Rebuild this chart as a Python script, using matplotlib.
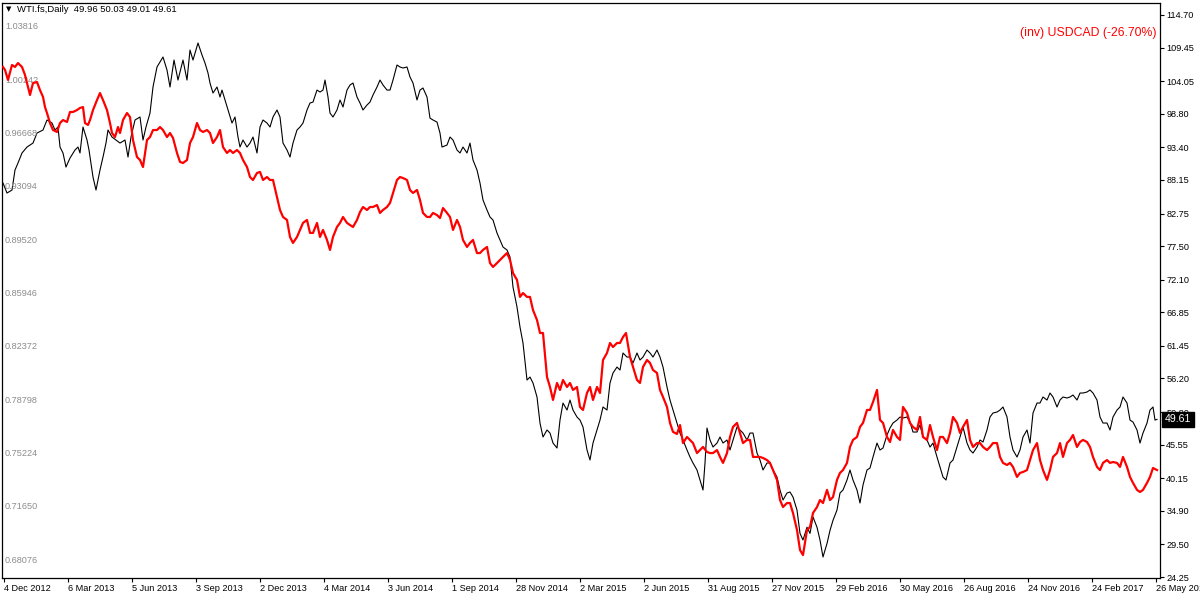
import numpy as np
import matplotlib
matplotlib.use("Agg")
import matplotlib.pyplot as plt
import matplotlib.transforms as mtransforms

plt.rcParams["font.family"] = ["Liberation Sans", "DejaVu Sans"]

# WTI daily closes (bar number, price)
wti_bar = [
    3, 7, 12, 15, 18, 22, 27, 33, 37, 43,
    47, 52, 55, 58, 60, 63, 66, 70, 75, 78,
    80, 83, 87, 89, 93, 96, 100, 103, 106, 108,
    112, 116, 120, 125, 128, 131, 135, 140, 143, 146,
    150, 153, 157, 163, 167, 170, 174, 178, 183, 187,
    190, 193, 198, 202, 205, 208, 210, 213, 217, 220,
    222, 225, 229, 232, 235, 238, 240, 243, 247, 250,
    253, 257, 260, 263, 267, 270, 273, 277, 280, 283,
    287, 290, 293, 297, 300, 303, 307, 310, 313, 317,
    320, 323, 325, 328, 330, 333, 337, 340, 343, 347,
    350, 353, 357, 360, 363, 367, 370, 373, 377, 380,
    383, 387, 390, 393, 397, 400, 403, 407, 410, 413,
    417, 420, 423, 427, 430, 433, 437, 440, 442, 447,
    450, 453, 457, 460, 463, 467, 470, 473, 477, 480,
    483, 487, 490, 493, 497, 500, 503, 507, 510, 513,
    517, 520, 523, 527, 530, 533, 537, 540, 543, 547,
    550, 553, 557, 560, 563, 567, 570, 573, 577, 580,
    583, 587, 590, 593, 597, 600, 603, 607, 610, 613,
    617, 620, 623, 627, 630, 633, 637, 640, 643, 647,
    650, 653, 657, 660, 663, 667, 670, 673, 677, 680,
    683, 687, 690, 693, 697, 700, 703, 705, 707, 710,
    713, 717, 720, 723, 727, 730, 733, 737, 740, 743,
    747, 750, 753, 757, 760, 763, 767, 770, 773, 777,
    780, 783, 787, 790, 793, 797, 800, 803, 807, 810,
    813, 817, 820, 823, 827, 830, 833, 837, 840, 843,
    847, 850, 853, 857, 860, 863, 867, 870, 873, 877,
    880, 883, 887, 890, 893, 897, 900, 903, 907, 910,
    913, 917, 920, 923, 927, 930, 933, 937, 940, 943,
    946, 950, 953, 957, 960, 963, 967, 970, 973, 977,
    980, 983, 987, 990, 993, 997, 1000, 1003, 1007, 1010,
    1013, 1017, 1020, 1023, 1027, 1030, 1033, 1037, 1040, 1043,
    1047, 1050, 1053, 1057, 1060, 1063, 1067, 1070, 1073, 1077,
    1080, 1083, 1087, 1090, 1093, 1097, 1100, 1103, 1107, 1110,
    1113, 1117, 1120, 1123, 1127, 1130, 1133, 1137, 1140, 1143,
    1147, 1150, 1153, 1155, 1157,
]
wti_close = [
    87.66, 86.05, 86.53, 89.75, 90.88, 92.49, 93.45, 94.09, 95.70, 96.19,
    97.80, 97.31, 96.19, 96.67, 93.45, 92.49, 90.23, 91.68, 92.97, 93.45,
    92.49, 96.67, 94.58, 92.97, 88.62, 86.53, 89.75, 91.84, 94.09, 96.19,
    95.06, 94.58, 94.09, 94.58, 91.84, 95.06, 97.80, 98.28, 94.58, 96.67,
    98.92, 103.11, 106.33, 107.94, 105.84, 103.11, 107.45, 104.23, 107.45, 104.23,
    109.06, 107.45, 110.19, 108.26, 106.97, 105.36, 103.75, 102.14, 103.11, 101.50,
    102.62, 101.02, 98.92, 97.31, 98.28, 95.06, 93.45, 94.58, 93.45, 94.09,
    95.06, 92.49, 96.67, 97.80, 97.31, 96.67, 98.28, 99.41, 98.28, 94.09,
    92.97, 91.84, 94.09, 96.19, 96.67, 97.31, 99.41, 100.53, 100.69, 102.62,
    102.30, 102.62, 104.23, 101.50, 98.92, 98.28, 99.41, 101.02, 99.89, 102.62,
    103.43, 103.75, 101.50, 100.53, 99.41, 100.21, 100.69, 101.82, 103.11, 104.23,
    103.43, 102.62, 102.62, 104.23, 106.65, 106.33, 106.17, 106.33, 104.72, 103.75,
    101.02, 102.62, 102.95, 101.50, 98.10, 97.80, 97.47, 95.70, 93.45, 93.77,
    95.06, 94.58, 92.97, 92.49, 93.45, 92.49, 94.09, 91.36, 89.75, 87.66,
    84.92, 83.31, 82.19, 81.70, 79.61, 78.48, 77.36, 76.87, 75.75, 70.92,
    67.70, 64.48, 61.91, 55.95, 56.43, 55.47, 53.22, 49.03, 46.78, 47.91,
    47.42, 45.81, 45.01, 49.51, 52.25, 51.12, 52.73, 51.12, 50.00, 49.51,
    48.39, 44.69, 43.08, 45.81, 47.91, 49.51, 51.61, 51.12, 55.47, 57.08,
    58.04, 57.56, 60.30, 59.65, 59.65, 58.69, 60.30, 59.17, 59.65, 60.78,
    60.30, 59.65, 60.78, 59.65, 58.04, 54.83, 52.73, 51.12, 49.03, 47.42,
    46.30, 44.69, 43.56, 42.60, 41.47, 39.86, 38.25, 42.60, 48.23, 46.30,
    45.17, 45.81, 46.78, 45.81, 46.30, 44.69, 46.30, 48.39, 47.91, 47.42,
    46.30, 47.42, 47.42, 44.20, 43.08, 41.47, 42.60, 42.60, 41.47, 40.34,
    38.25, 36.64, 37.77, 37.93, 37.12, 35.03, 31.27, 30.20, 32.26, 31.27,
    33.91, 32.26, 30.20, 27.47, 29.64, 31.75, 33.37, 35.03, 37.77, 38.25,
    39.86, 41.47, 39.86, 38.25, 36.16, 39.05, 41.47, 41.79, 43.56, 45.81,
    44.69, 45.01, 47.10, 48.23, 49.03, 49.51, 50.00, 49.84, 50.00, 49.19,
    47.58, 47.58, 48.71, 46.78, 46.30, 45.17, 45.81, 43.56, 41.95, 40.34,
    39.86, 42.60, 43.08, 45.17, 46.78, 48.39, 45.81, 44.69, 44.20, 45.17,
    46.30, 45.97, 47.91, 50.00, 50.64, 50.80, 51.12, 51.61, 50.00, 46.78,
    44.69, 43.56, 44.69, 46.78, 47.91, 45.81, 50.64, 52.25, 52.25, 53.22,
    52.73, 53.86, 53.22, 51.61, 52.73, 53.22, 53.06, 53.22, 53.54, 52.73,
    53.86, 53.86, 54.02, 54.35, 53.86, 52.73, 50.00, 49.03, 49.03, 47.91,
    50.00, 51.12, 51.61, 53.22, 52.25, 49.51, 49.19, 47.91, 45.81, 47.42,
    49.03, 51.12, 51.61, 49.51, 49.61,
]

# inverted USDCAD (1 / USDCAD) (bar number, value)
cad_bar = [
    3, 5, 8, 12, 15, 18, 22, 25, 28, 30,
    33, 37, 40, 43, 45, 47, 50, 53, 57, 60,
    63, 67, 70, 73, 77, 80, 83, 85, 88, 90,
    93, 97, 100, 103, 107, 110, 112, 115, 118, 120,
    123, 127, 130, 133, 137, 140, 143, 147, 150, 153,
    157, 160, 163, 167, 170, 173, 177, 180, 183, 187,
    190, 193, 197, 200, 203, 207, 210, 213, 217, 220,
    223, 227, 230, 233, 237, 240, 243, 247, 250, 253,
    257, 260, 263, 267, 270, 273, 277, 280, 283, 287,
    290, 293, 297, 300, 303, 307, 310, 313, 317, 320,
    323, 327, 330, 333, 337, 340, 343, 347, 350, 353,
    357, 360, 363, 367, 370, 373, 377, 380, 383, 387,
    390, 393, 397, 400, 403, 407, 410, 413, 417, 420,
    423, 427, 430, 433, 437, 440, 443, 447, 450, 453,
    457, 460, 463, 467, 470, 473, 477, 480, 483, 487,
    490, 493, 497, 500, 503, 507, 510, 513, 517, 520,
    523, 527, 530, 533, 537, 540, 543, 547, 550, 553,
    557, 560, 563, 567, 570, 573, 577, 580, 583, 587,
    590, 593, 597, 600, 603, 607, 610, 613, 617, 620,
    623, 626, 630, 633, 637, 640, 643, 647, 650, 653,
    657, 660, 663, 667, 670, 673, 677, 680, 683, 687,
    690, 693, 697, 700, 703, 707, 710, 713, 717, 720,
    723, 727, 730, 733, 737, 740, 743, 747, 750, 753,
    757, 760, 763, 767, 770, 773, 777, 780, 783, 787,
    790, 793, 797, 800, 803, 807, 810, 813, 817, 820,
    823, 827, 830, 833, 837, 840, 843, 847, 850, 853,
    857, 860, 863, 867, 870, 873, 877, 880, 883, 887,
    890, 893, 897, 900, 903, 907, 910, 913, 917, 920,
    923, 927, 930, 933, 937, 940, 943, 947, 950, 953,
    957, 960, 963, 967, 970, 973, 977, 980, 983, 987,
    990, 993, 997, 1000, 1003, 1007, 1010, 1013, 1017, 1020,
    1023, 1027, 1030, 1033, 1037, 1040, 1043, 1047, 1050, 1053,
    1057, 1060, 1063, 1067, 1070, 1073, 1077, 1080, 1083, 1087,
    1090, 1093, 1097, 1100, 1103, 1107, 1110, 1113, 1117, 1120,
    1123, 1127, 1130, 1133, 1137, 1140, 1143, 1147, 1150, 1153,
    1157,
]
cad_inv = [
    1.0107, 1.0087, 1.0020, 1.0120, 1.0107, 1.0133, 1.0107, 1.0053, 0.9973, 0.9919,
    0.9999, 1.0006, 0.9952, 0.9906, 0.9838, 0.9798, 0.9731, 0.9684, 0.9671, 0.9731,
    0.9751, 0.9738, 0.9805, 0.9805, 0.9818, 0.9832, 0.9838, 0.9731, 0.9718, 0.9751,
    0.9818, 0.9885, 0.9932, 0.9885, 0.9818, 0.9731, 0.9664, 0.9637, 0.9704, 0.9664,
    0.9751, 0.9798, 0.9771, 0.9617, 0.9503, 0.9483, 0.9436, 0.9617, 0.9637, 0.9684,
    0.9684, 0.9704, 0.9684, 0.9637, 0.9664, 0.9631, 0.9530, 0.9470, 0.9463, 0.9483,
    0.9597, 0.9637, 0.9731, 0.9684, 0.9671, 0.9684, 0.9664, 0.9597, 0.9637, 0.9684,
    0.9570, 0.9530, 0.9550, 0.9530, 0.9550, 0.9530, 0.9483, 0.9436, 0.9369, 0.9349,
    0.9396, 0.9403, 0.9349, 0.9369, 0.9349, 0.9349, 0.9235, 0.9148, 0.9101, 0.9081,
    0.8967, 0.8927, 0.8967, 0.9014, 0.9061, 0.9081, 0.8994, 0.8994, 0.9061, 0.8967,
    0.9014, 0.8947, 0.8880, 0.8967, 0.9034, 0.9061, 0.9101, 0.9061, 0.9047, 0.9034,
    0.9081, 0.9134, 0.9168, 0.9148, 0.9168, 0.9168, 0.9181, 0.9128, 0.9148, 0.9168,
    0.9195, 0.9262, 0.9349, 0.9369, 0.9362, 0.9349, 0.9282, 0.9262, 0.9282, 0.9215,
    0.9128, 0.9101, 0.9101, 0.9128, 0.9114, 0.9094, 0.9161, 0.9128, 0.9101, 0.9014,
    0.9081, 0.9034, 0.8947, 0.8900, 0.8927, 0.8947, 0.8859, 0.8859, 0.8880, 0.8900,
    0.8792, 0.8766, 0.8792, 0.8813, 0.8833, 0.8859, 0.8813, 0.8725, 0.8679, 0.8565,
    0.8591, 0.8565, 0.8565, 0.8477, 0.8410, 0.8323, 0.8323, 0.8028, 0.7961, 0.7874,
    0.7988, 0.7941, 0.8008, 0.7961, 0.7988, 0.7941, 0.7961, 0.7827, 0.7807, 0.7921,
    0.7961, 0.7874, 0.7961, 0.7921, 0.8142, 0.8189, 0.8256, 0.8229, 0.8256, 0.8256,
    0.8296, 0.8323, 0.8162, 0.8095, 0.8008, 0.7988, 0.8095, 0.8142, 0.8122, 0.8075,
    0.8055, 0.7941, 0.7894, 0.7827, 0.7720, 0.7660, 0.7646, 0.7706, 0.7585, 0.7626,
    0.7606, 0.7585, 0.7518, 0.7538, 0.7559, 0.7525, 0.7518, 0.7518, 0.7538, 0.7492,
    0.7452, 0.7518, 0.7626, 0.7693, 0.7720, 0.7653, 0.7585, 0.7606, 0.7606, 0.7492,
    0.7492, 0.7492, 0.7485, 0.7471, 0.7452, 0.7404, 0.7338, 0.7203, 0.7156, 0.7183,
    0.7183, 0.7116, 0.7002, 0.6868, 0.6834, 0.7002, 0.7022, 0.7116, 0.7156, 0.7203,
    0.7183, 0.7271, 0.7203, 0.7223, 0.7338, 0.7385, 0.7404, 0.7452, 0.7559, 0.7606,
    0.7626, 0.7693, 0.7720, 0.7807, 0.7807, 0.7860, 0.7941, 0.7740, 0.7720, 0.7626,
    0.7592, 0.7673, 0.7626, 0.7606, 0.7827, 0.7787, 0.7720, 0.7693, 0.7673, 0.7760,
    0.7626, 0.7606, 0.7706, 0.7626, 0.7538, 0.7626, 0.7626, 0.7585, 0.7653, 0.7760,
    0.7720, 0.7653, 0.7693, 0.7740, 0.7606, 0.7559, 0.7585, 0.7585, 0.7559, 0.7538,
    0.7559, 0.7585, 0.7585, 0.7492, 0.7452, 0.7438, 0.7452, 0.7425, 0.7358, 0.7385,
    0.7391, 0.7404, 0.7471, 0.7538, 0.7585, 0.7471, 0.7404, 0.7338, 0.7404, 0.7492,
    0.7518, 0.7585, 0.7492, 0.7585, 0.7606, 0.7639, 0.7559, 0.7592, 0.7606, 0.7592,
    0.7559, 0.7492, 0.7425, 0.7404, 0.7452, 0.7471, 0.7452, 0.7458, 0.7452, 0.7425,
    0.7492, 0.7425, 0.7358, 0.7318, 0.7271, 0.7257, 0.7271, 0.7318, 0.7358, 0.7418,
    0.7404,
]

date_labels = [
    "4 Dec 2012", "6 Mar 2013", "5 Jun 2013", "3 Sep 2013", "2 Dec 2013",
    "4 Mar 2014", "3 Jun 2014", "1 Sep 2014", "28 Nov 2014", "2 Mar 2015",
    "2 Jun 2015", "31 Aug 2015", "27 Nov 2015", "29 Feb 2016", "30 May 2016",
    "26 Aug 2016", "24 Nov 2016", "24 Feb 2017", "26 May 2017",
]
wti_ticks = [114.70, 109.45, 104.05, 98.80, 93.40, 88.15, 82.75, 77.50, 72.10,
             66.85, 61.45, 56.20, 50.80, 45.55, 40.15, 34.90, 29.50, 24.25]
cad_ticks = [1.03816, 1.00242, 0.96668, 0.93094, 0.89520, 0.85946,
             0.82372, 0.78798, 0.75224, 0.71650, 0.68076]
last_ohlc = [49.96, 50.03, 49.01, 49.61]
cad_change = -26.70


def main():
    W, H = 1200, 600
    fig = plt.figure(figsize=(W / 100, H / 100), dpi=100)
    fig.patch.set_facecolor("white")

    ax = fig.add_axes([2 / W, 22 / H, 1158 / W, 575 / H])
    ax.plot(wti_bar, wti_close, color="black", lw=0.8, zorder=2)
    ax.set_xlim(2, 1160)
    ax.set_ylim(24.09, 116.63)

    # inverted USDCAD overlay, its scale written inside on the left
    ax2 = ax.twinx()
    ax2.plot(cad_bar, cad_inv, color="#ff0000", lw=1.6, zorder=3)
    ax2.set_ylim(0.66802, 1.05358)
    ax2.yaxis.tick_left()
    ax2.set_yticks(cad_ticks)
    ax2.set_yticklabels(["%.5f" % t for t in cad_ticks])
    ax2.tick_params(axis="y", left=True, right=False, length=0, pad=-2.2,
                    labelsize=6.6, labelcolor="#8c8c8c",
                    labelleft=True, labelright=False)
    for lab in ax2.get_yticklabels():
        lab.set_horizontalalignment("left")
    for s in ax2.spines.values():
        s.set_visible(False)

    # WTI scale on the right (after twinx, which moves it left)
    ax.yaxis.tick_right()
    ax.set_yticks(wti_ticks)
    ax.set_yticklabels(["%.2f" % t for t in wti_ticks])
    ax.tick_params(axis="y", left=False, right=True, labelleft=False,
                   labelright=True, direction="out", length=3, width=0.8,
                   pad=1.5, labelsize=6.6, colors="black")

    # one date every 64 bars
    ax.set_xticks(4 + 64 * np.arange(len(date_labels)))
    ax.set_xticklabels(date_labels, ha="left")
    ax.tick_params(axis="x", direction="out", length=3, width=0.8, pad=1.5,
                   labelsize=6.6)
    for s in ax.spines.values():
        s.set_linewidth(0.9)
        s.set_color("black")

    # header and overlay name
    fig.text(6 / W, 1 - 9 / H, "\u25bc", fontsize=5, family="DejaVu Sans",
             va="center", ha="left")
    fig.text(17 / W, 1 - 9 / H,
             "WTI.fs,Daily  " + " ".join("%.2f" % v for v in last_ohlc),
             fontsize=6.8, va="center", ha="left")
    fig.text(1157 / W, 1 - 33 / H,
             "(inv) USDCAD (%.2f%%)" % cad_change,
             color="#ff0000", fontsize=8.8, ha="right", va="center")

    # last price tag (covers part of the tick label, as on the terminal)
    trans = mtransforms.blended_transform_factory(ax.transAxes, ax.transData)
    ax.text(1.004, wti_close[-1], "%.2f" % wti_close[-1], transform=trans,
            color="white", fontsize=7.6, ha="left", va="center", clip_on=False,
            zorder=5,
            bbox=dict(boxstyle="square,pad=0.25", fc="black", ec="black"))

    fig.savefig("out.png", dpi=100, facecolor="white")


if __name__ == "__main__":
    main()
